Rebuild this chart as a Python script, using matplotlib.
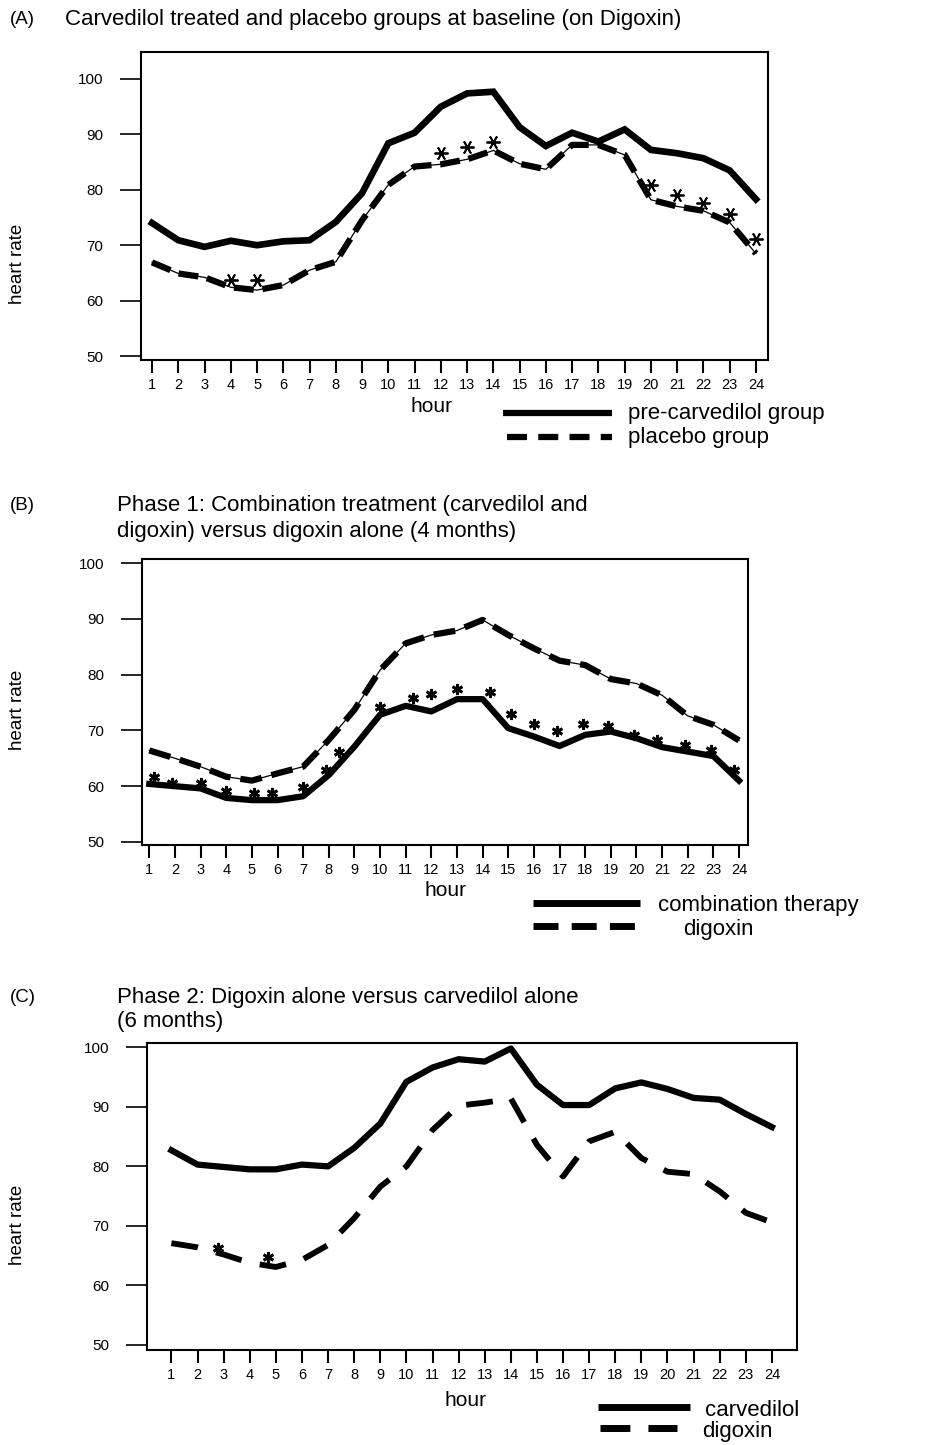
import matplotlib
matplotlib.use("Agg")
import matplotlib.pyplot as plt
from matplotlib.lines import Line2D

plt.rcParams['font.family'] = ['Liberation Sans', 'DejaVu Sans']

hours = list(range(1, 25))

# (A) baseline
a_pre = [74.0, 70.9, 69.7, 70.8, 70.0, 70.7, 70.9, 74.2, 79.4, 88.4, 90.3, 95.0,
         97.4, 97.7, 91.3, 87.9, 90.3, 88.7, 90.9, 87.2, 86.6, 85.7, 83.5, 78.3]
a_placebo = [66.9, 64.9, 64.2, 62.4, 61.9, 62.8, 65.5, 67.0, 74.5, 80.9, 84.2, 84.6,
             85.5, 87.1, 84.7, 83.7, 88.1, 88.1, 86.3, 78.2, 77.0, 76.2, 74.1, 68.5]
a_star_hours = [4, 5, 12, 13, 14, 20, 21, 22, 23, 24]
a_star_vals = [63.7, 63.7, 86.7, 87.7, 88.7, 80.9, 79.1, 77.6, 75.6, 71.2]

# (B) phase 1
b_combo = [60.4, 60.0, 59.6, 57.9, 57.5, 57.5, 58.2, 62.0, 67.1, 72.8, 74.4, 73.4,
           75.6, 75.6, 70.4, 68.9, 67.2, 69.2, 69.8, 68.6, 67.0, 66.2, 65.4, 61.0]
b_digoxin = [66.4, 65.0, 63.5, 61.7, 61.0, 62.3, 63.5, 68.3, 73.7, 80.8, 85.6, 87.1,
             87.9, 89.8, 87.1, 84.7, 82.5, 81.7, 79.2, 78.4, 76.3, 72.6, 71.0, 68.2]
b_star_hours = [1.2, 1.9, 3.0, 4.0, 5.1, 5.8, 7.0, 7.9, 8.4, 10.0, 11.3, 12.0, 13.0,
                14.3, 15.1, 16.0, 16.9, 17.9, 18.9, 19.9, 20.8, 21.9, 22.9, 23.8]
b_star_vals = [61.6, 60.6, 60.5, 59.2, 58.7, 58.7, 59.9, 62.9, 66.1, 74.2, 75.8, 76.5,
               77.5, 76.8, 72.9, 71.1, 69.9, 71.1, 70.7, 69.2, 68.3, 67.4, 66.4, 62.9]

# (C) phase 2
c_carvedilol = [82.7, 80.3, 79.9, 79.5, 79.5, 80.3, 80.0, 83.1, 87.2, 94.2, 96.6, 98.0,
                97.6, 99.8, 93.7, 90.3, 90.3, 93.1, 94.1, 93.0, 91.5, 91.2, 88.8, 86.6]
c_digoxin = [67.1, 66.4, 65.2, 63.8, 63.1, 64.3, 66.8, 71.3, 76.6, 80.0, 86.1, 90.2,
             90.7, 91.4, 83.6, 78.3, 84.2, 85.8, 81.4, 79.1, 78.7, 75.8, 72.2, 70.6]
c_star_hours = [2.8, 4.7]
c_star_vals = [66.3, 64.7]

yticks = [50, 60, 70, 80, 90, 100]

W, H = 933, 1445
fig = plt.figure(figsize=(W / 100, H / 100), dpi=100)


def fx(x):
    return x / W


def fy(y):
    return 1 - y / H


def make_axes(left, top, right, bottom, xlim, ylim, label_y):
    ax = fig.add_axes([fx(left), fy(bottom), fx(right - left), (bottom - top) / H])
    ax.set_xlim(*xlim)
    ax.set_ylim(*ylim)
    ax.set_xticks(hours)
    ax.set_xticklabels([str(h) for h in hours], fontsize=10.5)
    ax.set_yticks(yticks)
    ax.set_yticklabels([str(v) for v in yticks], fontsize=11)
    ax.tick_params(axis='x', direction='out', length=9, width=1.5, pad=4)
    ax.tick_params(axis='y', direction='out', length=15, width=1.2, pad=12)
    for s in ax.spines.values():
        s.set_linewidth(1.5)
    fig.text(fx(18), fy(label_y), 'heart rate', fontsize=13.5, rotation=90,
             ha='center', va='center')
    return ax


def stars(ax, xs, ys, marker=(6, 2, 0), size=9, mew=1.6):
    ax.plot(xs, ys, linestyle='none', marker=marker, markersize=size,
            markeredgewidth=mew, color='black')


def legend_line(x0, x1, y, dashes=None, lw=4.5):
    ln = Line2D([fx(x0), fx(x1)], [fy(y), fy(y)], color='black', lw=lw,
                solid_capstyle='butt', dash_capstyle='butt')
    if dashes:
        ln.set_dashes(dashes)
    fig.add_artist(ln)


# ---------- Panel A ----------
axA = make_axes(141, 52, 768, 360, (0.58, 24.46), (49.28, 104.87), 264)
axA.plot(hours, a_pre, color='black', lw=4.8, solid_joinstyle='miter')
axA.plot(hours, a_placebo, color='black', lw=0.9)
axA.plot(hours, a_placebo, color='black', lw=4.5, dashes=(3.2, 1.4),
         dash_capstyle='butt')
stars(axA, a_star_hours, a_star_vals, marker=(6, 2, 90), size=10, mew=1.3)

fig.text(fx(10), fy(20), '(A)', fontsize=13.5, va='center')
fig.text(fx(65), fy(20), 'Carvedilol treated and placebo groups at baseline (on Digoxin)',
         fontsize=16, va='center')
fig.text(fx(432), fy(407), 'hour', fontsize=15, va='center', ha='center')
legend_line(503, 612, 413, lw=4.5)
legend_line(507, 612, 437, dashes=(3.2, 1.8), lw=4.5)
fig.text(fx(628), fy(413), 'pre-carvedilol group', fontsize=16, va='center')
fig.text(fx(628), fy(438), 'placebo group', fontsize=16, va='center')

# ---------- Panel B ----------
axB = make_axes(142, 559, 748, 845, (0.715, 24.35), (49.46, 100.72), 710)
axB.plot(hours, b_digoxin, color='black', lw=0.9)
axB.plot(hours, b_digoxin, color='black', lw=4.5, dashes=(3.5, 1.6),
         dash_capstyle='butt')
axB.plot(hours, b_combo, color='black', lw=4.5)
stars(axB, b_star_hours, b_star_vals, size=8, mew=2.0)

fig.text(fx(10), fy(506), '(B)', fontsize=13.5, va='center')
fig.text(fx(117), fy(506), 'Phase 1: Combination treatment (carvedilol and',
         fontsize=16, va='center')
fig.text(fx(117), fy(532), 'digoxin) versus digoxin alone (4 months)',
         fontsize=16, va='center')
fig.text(fx(445), fy(890), 'hour', fontsize=15, va='center', ha='center')
legend_line(533, 640, 903, lw=5)
legend_line(533, 640, 926, dashes=(3.6, 1.9), lw=5)
fig.text(fx(658), fy(906), 'combination therapy', fontsize=16, va='center')
fig.text(fx(683), fy(929), 'digoxin', fontsize=16, va='center')

# ---------- Panel C ----------
axC = make_axes(147, 1043, 797, 1350, (0.065, 24.96), (49.16, 100.72), 1225)
axC.plot(hours, c_carvedilol, color='black', lw=4.5)
axC.plot(hours, c_digoxin, color='black', lw=4.2, dashes=(4.6, 3.2),
         dash_capstyle='butt')
stars(axC, c_star_hours, c_star_vals, size=8, mew=2.0)

fig.text(fx(10), fy(998), '(C)', fontsize=13.5, va='center')
fig.text(fx(117), fy(998), 'Phase 2: Digoxin alone versus carvedilol alone',
         fontsize=16, va='center')
fig.text(fx(117), fy(1022), '(6 months)', fontsize=16, va='center')
fig.text(fx(465), fy(1400), 'hour', fontsize=15, va='center', ha='center')
legend_line(598, 690, 1407, lw=5)
legend_line(600, 677, 1428, dashes=(4.3, 2.6), lw=5)
fig.text(fx(705), fy(1411), 'carvedilol', fontsize=16, va='center')
fig.text(fx(702), fy(1432), 'digoxin', fontsize=16, va='center')

fig.savefig('out.png', dpi=100)
plt.close(fig)
